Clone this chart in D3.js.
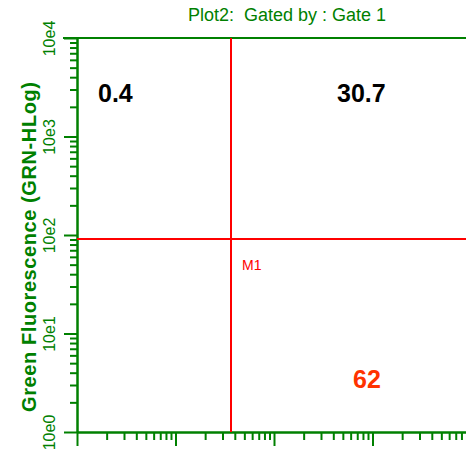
<!DOCTYPE html>
<meta charset="utf-8">
<script src="https://d3js.org/d3.v7.min.js"></script>
<style>
  body { margin: 0; background: #fff; }
  text { font-family: Arial, "Liberation Sans", sans-serif; }
</style>
<svg id="chart" width="466" height="451"></svg>
<script>
// decades on both log axes
var majorTicks = [1, 10, 100, 1000, 10000];
var majorLabels = ["10e0", "10e1", "10e2", "10e3", "10e4"];
var minorSteps = [2, 3, 4, 5, 6, 7, 8, 9];

// gate markers (M1) in channel units
var gateX = 36.6;
var gateY = 91;

// quadrant percentages
var quadNames = ["UL", "UR", "LR"];
var quadValues = ["0.4", "30.7", "62"];

var green = "#008000";

var svg = d3.select("#chart");

var x = d3.scaleLog().domain([1, 10000]).range([77, 471]);
var y = d3.scaleLog().domain([1, 10000]).range([432, 38]);

var minorTicks = [];
majorTicks.slice(0, 4).forEach(function (d) {
  minorSteps.forEach(function (m) { minorTicks.push(d * m); });
});

// title
svg.append("text")
  .attr("x", 287)
  .attr("y", 21)
  .attr("text-anchor", "middle")
  .style("white-space", "pre")
  .style("font-size", "18px")
  .attr("fill", green)
  .text("Plot2:  Gated by : Gate 1");

// top frame line
svg.append("line")
  .attr("x1", 63).attr("x2", 466)
  .attr("y1", y(10000)).attr("y2", y(10000))
  .attr("stroke", green).attr("stroke-width", 2);

// y axis: minor then major
var yMinor = svg.append("g")
  .attr("transform", "translate(" + x(1) + ",0)")
  .call(d3.axisLeft(y).tickValues(minorTicks).tickSize(7).tickSizeOuter(0).tickFormat(""));

var yMajor = svg.append("g")
  .attr("transform", "translate(" + x(1) + ",0)")
  .call(d3.axisLeft(y).tickValues(majorTicks).tickSize(13).tickSizeOuter(0)
    .tickFormat(function (d, i) { return majorLabels[i]; }));

yMajor.selectAll(".tick text")
  .attr("transform", "rotate(-90)")
  .attr("x", 0)
  .attr("y", -22)
  .attr("dy", null)
  .attr("text-anchor", "middle")
  .attr("fill", green)
  .style("font-size", "16px");

// x axis: minor then major (labels fall below the window)
var xMinor = svg.append("g")
  .attr("transform", "translate(0," + y(1) + ")")
  .call(d3.axisBottom(x).tickValues(minorTicks.concat([20000, 30000, 40000])).tickSize(8).tickSizeOuter(0).tickFormat(""));

var xMajor = svg.append("g")
  .attr("transform", "translate(0," + y(1) + ")")
  .call(d3.axisBottom(x).tickValues(majorTicks).tickSize(14).tickSizeOuter(0).tickFormat(""));

svg.selectAll(".domain, .tick line")
  .attr("stroke", green)
  .attr("stroke-width", 2);

// gate lines
svg.append("line")
  .attr("x1", x(gateX)).attr("x2", x(gateX))
  .attr("y1", y(10000)).attr("y2", y(1))
  .attr("stroke", "#ff0000").attr("stroke-width", 2);

svg.append("line")
  .attr("x1", x(1)).attr("x2", 466)
  .attr("y1", y(gateY)).attr("y2", y(gateY))
  .attr("stroke", "#ff0000").attr("stroke-width", 2);

svg.append("text")
  .attr("x", x(gateX) + 11)
  .attr("y", y(gateY) + 31)
  .attr("fill", "#ff0000")
  .style("font-size", "14px")
  .text("M1");

// y axis title
svg.append("text")
  .attr("transform", "translate(36,247) rotate(-90)")
  .attr("text-anchor", "middle")
  .attr("textLength", 330)
  .attr("lengthAdjust", "spacing")
  .attr("fill", green)
  .style("font-size", "20px")
  .style("font-weight", "bold")
  .text("Green Fluorescence (GRN-HLog)");

// quadrant values
var quadPos = { UL: [98, 102, "#000"], UR: [337, 102, "#000"], LR: [353, 388, "#ff3300"] };
svg.selectAll(".quad")
  .data(quadNames)
  .enter().append("text")
  .attr("class", "quad")
  .attr("x", function (d) { return quadPos[d][0]; })
  .attr("y", function (d) { return quadPos[d][1]; })
  .attr("fill", function (d) { return quadPos[d][2]; })
  .style("font-size", "25px")
  .style("font-weight", "bold")
  .text(function (d, i) { return quadValues[i]; });
</script>
